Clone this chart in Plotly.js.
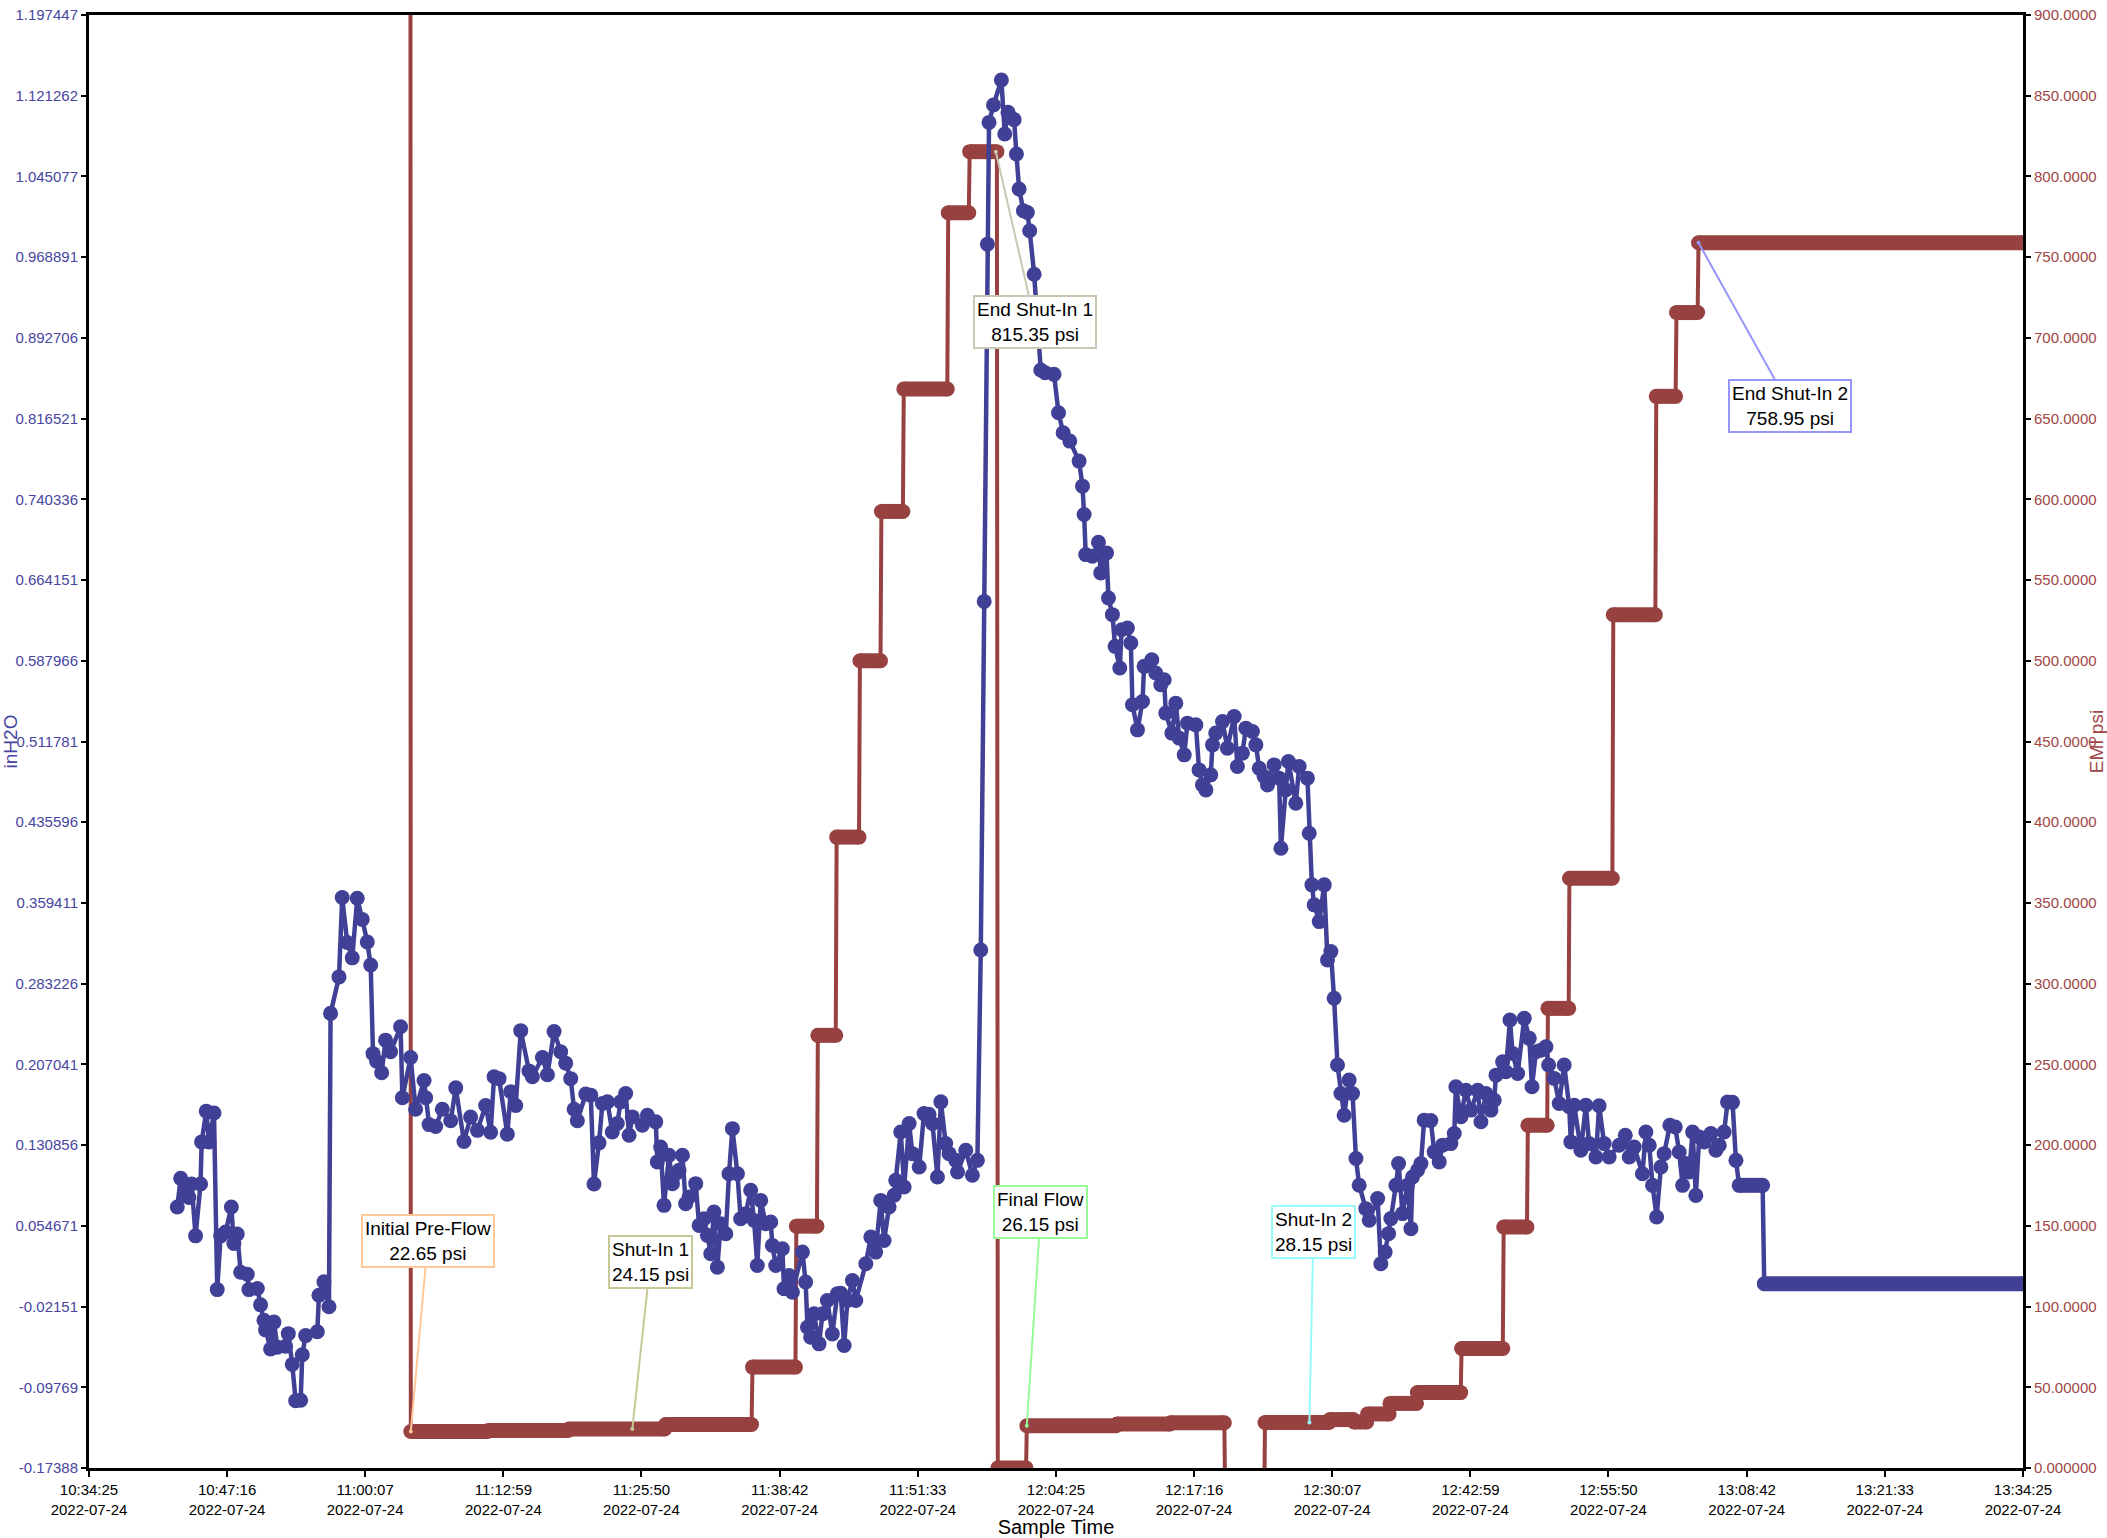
<!DOCTYPE html>
<html>
<head>
<meta charset="utf-8">
<script src="https://cdn.plot.ly/plotly-3.0.1.min.js"></script>
<style>html,body{margin:0;padding:0;background:#fff;}#chart{width:2107px;height:1538px;}</style>
</head>
<body>
<div id="chart"></div>
<script>
const DAY = '2022-07-24';

// x-axis tick labels
const xTickTimes = ['10:34:25','10:47:16','11:00:07','11:12:59','11:25:50','11:38:42','11:51:33','12:04:25','12:17:16','12:30:07','12:42:59','12:55:50','13:08:42','13:21:33','13:34:25'];
// left axis (inH2O) tick labels
const leftTickText = ['1.197447','1.121262','1.045077','0.968891','0.892706','0.816521','0.740336','0.664151','0.587966','0.511781','0.435596','0.359411','0.283226','0.207041','0.130856','0.054671','-0.02151','-0.09769','-0.17388'];
// right axis (EMI psi) tick labels
const rightTickText = ['900.0000','850.0000','800.0000','750.0000','700.0000','650.0000','600.0000','550.0000','500.0000','450.0000','400.0000','350.0000','300.0000','250.0000','200.0000','150.0000','100.0000','50.00000','0.000000'];

// inH2O series
const blueTime = [
'10:42:38','10:42:57','10:43:21','10:43:43','10:43:58','10:44:20','10:44:48','10:44:54','10:45:20','10:45:35',
'10:46:03','10:46:21','10:46:40','10:47:08','10:47:40','10:47:54','10:48:13','10:48:32','10:49:09','10:49:18',
'10:50:05','10:50:23','10:50:42','10:50:51','10:51:19','10:51:38','10:51:57','10:52:43','10:52:58','10:53:20',
'10:53:39','10:54:07','10:54:16','10:54:35','10:55:40','10:55:49','10:56:17','10:56:45','10:56:54','10:57:41',
'10:57:59','10:58:27','10:58:55','10:59:23','10:59:51','11:00:19','11:00:38','11:00:51','11:01:11','11:01:39',
'11:02:01','11:02:29','11:03:25','11:03:35','11:04:21','11:04:49','11:05:36','11:05:45','11:06:04','11:06:41',
'11:07:18','11:08:05','11:08:33','11:09:19','11:09:56','11:10:34','11:11:20','11:11:48','11:12:07','11:12:35',
'11:13:21','11:13:40','11:14:08','11:14:36','11:15:22','11:15:41','11:16:37','11:17:05','11:17:42','11:18:19',
'11:18:47','11:19:15','11:19:34','11:19:52','11:20:39','11:21:07','11:21:25','11:21:53',
'11:22:12','11:22:40','11:23:07','11:23:35','11:23:54','11:24:22','11:24:41','11:24:59','11:25:55','11:26:23',
'11:27:10','11:27:19','11:27:37','11:27:56','11:28:24','11:28:43','11:29:01','11:29:20','11:29:39','11:29:57',
'11:30:16','11:30:53','11:31:12','11:31:40','11:31:58','11:32:17','11:32:35','11:32:54','11:33:13','11:33:41',
'11:33:59','11:34:18','11:34:46','11:35:04','11:35:32','11:36:00','11:36:19','11:36:37','11:36:56','11:37:24',
'11:37:52','11:38:01','11:38:20','11:38:57','11:39:06','11:39:34','11:39:53','11:40:49','11:41:07','11:41:17',
'11:41:35','11:41:54','11:42:22','11:42:41','11:43:08','11:43:36','11:44:04','11:44:23','11:44:42','11:45:00',
'11:45:28','11:45:47','11:46:43','11:47:11','11:47:38','11:48:06','11:48:25','11:48:53','11:49:21','11:49:30',
'11:49:58','11:50:17','11:50:45','11:51:03','11:51:41','11:52:08','11:52:36','11:52:55','11:53:23','11:53:42',
'11:54:09','11:54:28','11:55:05','11:55:15','11:56:01','11:56:38','11:57:06',
'11:57:25','11:57:44','11:58:02','11:58:11','11:58:36','11:59:20','11:59:39','11:59:57','12:00:12','12:00:31',
'12:00:44','12:00:59','12:01:23','12:01:45','12:01:58','12:02:23','12:03:00','12:03:24','12:04:14','12:04:39',
'12:05:05','12:05:42',
'12:06:34','12:06:53','12:07:02','12:07:11','12:07:48','12:08:22','12:08:35','12:09:07','12:09:18','12:09:40',
'12:09:55','12:10:21','12:10:32','12:11:04','12:11:23','12:11:32','12:12:00','12:12:28','12:12:37','12:13:20',
'12:13:42','12:14:10','12:14:29','12:14:38','12:15:12','12:15:34','12:15:53','12:16:21','12:16:39','12:17:26',
'12:17:44','12:18:03','12:18:22','12:18:49','12:18:59','12:19:17','12:19:55','12:20:22','12:21:00','12:21:18',
'12:21:46','12:22:05','12:22:42','12:23:01','12:23:20','12:23:47','12:24:06','12:24:43','12:25:11','12:25:21',
'12:25:48','12:26:03','12:26:44','12:27:03','12:27:49','12:27:59',
'12:28:14','12:28:27','12:28:55','12:29:23','12:29:41','12:30:00','12:30:18','12:30:37','12:30:56','12:31:14',
'12:31:42','12:32:01','12:32:20','12:32:38','12:33:15','12:33:34','12:34:21','12:34:39','12:35:03','12:35:22',
'12:35:35','12:36:03','12:36:18','12:36:40','12:37:08','12:37:27','12:37:36','12:38:04','12:38:23','12:38:41',
'12:39:18','12:39:37','12:40:05','12:40:24','12:41:10','12:41:29','12:41:38','12:42:06','12:42:34','12:43:02',
'12:43:40','12:43:58','12:44:26','12:44:54','12:45:12','12:45:22','12:45:59','12:46:17','12:46:40','12:46:55',
'12:47:23','12:48:00','12:48:28','12:48:43','12:49:05','12:49:33','12:50:01','12:50:16','12:50:47','12:51:15',
'12:51:43','12:52:11',
'12:52:20','12:52:39','12:53:16','12:53:44','12:54:02','12:54:40','12:54:58','12:55:26','12:55:54','12:56:50',
'12:57:24','12:57:46','12:58:14','12:59:00','12:59:19','12:59:38','12:59:56','13:00:19','13:00:43','13:01:01',
'13:01:33','13:02:03','13:02:25','13:02:44','13:03:02','13:03:21','13:03:40','13:03:58','13:04:17','13:04:45',
'13:05:22','13:05:50','13:06:09','13:06:36','13:06:55','13:07:23','13:07:42','13:08:00','13:10:11','13:10:20',
'13:34:25'
];
const blueValue = [
0.0724,0.0995,0.0832,0.0814,0.0941,0.0452,0.0941,0.1339,0.1629,0.1339,
0.1611,-0.0055,0.0452,0.0488,0.0724,0.0380,0.0470,0.0108,0.0090,-0.0055,
-0.0045,-0.0199,-0.0344,-0.0435,-0.0616,-0.0362,-0.0598,-0.0590,-0.0471,-0.0761,
-0.1104,-0.1100,-0.0670,-0.0489,-0.0453,-0.0109,0.0018,-0.0217,0.2552,0.2896,
0.3645,0.3221,0.3076,0.3638,0.3439,0.3225,0.3008,0.2172,0.2100,0.1991,
0.2299,0.2190,0.2426,0.1755,0.2136,0.1647,0.1918,0.1755,0.1502,0.1484,
0.1647,0.1538,0.1849,0.1343,0.1574,0.1448,0.1683,0.1430,0.1954,0.1936,
0.1412,0.1813,0.1683,0.2389,0.2009,0.1954,0.2136,0.1973,0.2380,0.2190,
0.2082,0.1936,0.1647,0.1538,0.1791,0.1780,0.0941,0.1330,
0.1701,0.1717,0.1433,0.1512,0.1717,0.1795,0.1401,0.1575,0.1496,0.1590,
0.1528,0.1150,0.1291,0.0740,0.1213,0.0945,0.1039,0.1071,0.1213,0.0756,
0.0819,0.0945,0.0551,0.0614,0.0457,0.0283,0.0677,0.0157,0.0567,0.0472,
0.1039,0.1464,0.1039,0.0614,0.0661,0.0882,0.0598,0.0173,0.0787,0.0567,
0.0583,0.0362,0.0173,0.0331,-0.0047,0.0079,-0.0079,0.0299,0.0016,-0.0410,
-0.0504,-0.0284,-0.0567,-0.0284,-0.0158,-0.0473,-0.0095,-0.0090,-0.0583,-0.0158,
0.0031,-0.0158,0.0189,0.0441,0.0299,0.0787,0.0409,0.0724,0.0835,0.0976,
0.1433,0.0913,0.1512,0.1228,0.1102,0.1606,0.1600,0.1512,0.1008,0.1717,
0.1323,0.1228,0.1165,0.1055,0.1260,0.1024,0.1165,
0.3150,0.6440,0.9812,1.0961,1.1125,1.1361,1.0851,1.1056,1.1010,1.0987,
1.0662,1.0332,1.0127,1.0111,0.9938,0.9528,0.8624,0.8599,0.8583,0.8221,
0.8032,0.7953,
0.7764,0.7528,0.7260,0.6882,0.6866,0.6999,0.6709,0.6898,0.6472,0.6315,
0.6016,0.5811,0.6173,0.6189,0.6047,0.5465,0.5228,0.5496,0.5827,0.5890,
0.5764,0.5654,0.5700,0.5386,0.5197,0.5480,0.5150,0.4992,0.5291,0.5275,
0.4850,0.4708,0.4661,0.4803,0.5086,0.5197,0.5307,0.5055,0.5354,0.4882,
0.5008,0.5244,0.5212,0.5086,0.4866,0.4787,0.4708,0.4897,0.4772,0.4110,
0.4661,0.4929,0.4535,0.4882,0.4772,0.4252,
0.3765,0.3576,0.3418,0.3765,0.3056,0.3135,0.2694,0.2064,0.1796,0.1591,
0.1922,0.1796,0.1182,0.0930,0.0709,0.0599,0.0804,0.0189,0.0299,0.0473,
0.0615,0.0930,0.1134,0.0662,0.0930,0.0520,0.1008,0.1071,0.1134,0.1544,
0.1540,0.1245,0.1150,0.1308,0.1323,0.1418,0.1859,0.1576,0.1827,0.1639,
0.1827,0.1529,0.1796,0.1639,0.1733,0.1969,0.2095,0.2001,0.2489,0.2174,
0.1985,0.2505,0.2316,0.1859,0.2190,0.2205,0.2237,0.2064,0.1938,0.1702,
0.2064,0.1670,
0.1339,0.1685,0.1260,0.1685,0.1323,0.1197,0.1680,0.1323,0.1197,0.1307,
0.1401,0.1197,0.1291,0.1039,0.1433,0.1307,0.0929,0.0630,0.1102,0.1228,
0.1496,0.1480,0.1244,0.0929,0.1134,0.1055,0.1433,0.0834,0.1386,0.1339,
0.1417,0.1260,0.1307,0.1433,0.1716,0.1712,0.1165,0.0929,0.0929,0.0000,
0.0000
];

// EMI psi series (each level: first and last sample of the hold)
const redTime = ['11:04:20',
'11:04:22','11:11:30','11:11:35','11:19:00','11:19:05','11:28:00','11:28:05','11:36:05',
'11:36:10','11:40:10','11:40:15','11:42:10','11:42:15','11:43:55','11:44:00','11:46:05',
'11:46:10','11:48:05','11:48:10','11:50:10','11:50:15','11:54:18','11:54:23','11:56:18',
'11:56:23','11:58:55','11:59:00','12:01:38','12:01:42','12:10:00','12:10:05','12:15:00',
'12:15:05','12:20:05','12:20:10','12:23:48','12:23:52','12:29:50','12:29:55','12:32:05',
'12:32:10','12:33:20','12:33:25','12:35:25','12:35:30','12:37:58','12:38:03','12:42:05',
'12:42:10','12:46:00','12:46:05','12:48:15','12:48:20','12:50:08','12:50:12','12:52:08',
'12:52:12','12:56:12','12:56:17','13:00:12','13:00:17','13:02:05','13:02:10','13:04:08',
'13:04:13','13:34:25'];
const redValue = [1000,
22.65,22.65,23.2,23.2,24.15,24.15,26.9,26.9,
62.5,62.5,149.8,149.8,268.0,268.0,390.8,390.8,
500.0,500.0,592.5,592.5,668.3,668.3,777.5,777.5,
815.35,815.35,0,0,26.15,26.15,27.2,27.2,
28.0,28.0,-20,-20,28.15,28.15,30.0,30.0,
28.5,28.5,33.5,33.5,40.0,40.0,46.7,46.7,
74.0,74.0,149.3,149.3,212.3,212.3,284.7,284.7,
365.3,365.3,528.5,528.5,663.8,663.8,715.7,715.7,
758.95,758.95];

// annotated points
const annTime = ['11:04:22','11:24:59','12:01:42','12:28:00','11:58:49','13:04:13'];
const annValue = [22.65,24.15,26.15,28.15,815.35,758.95];
const annLabel = ['Initial Pre-Flow','Shut-In 1','Final Flow','Shut-In 2','End Shut-In 1','End Shut-In 2'];
const annColor = ['#ffc896','#c8c896','#96fa96','#96fafa','#c8c8b4','#9696fa'];
const annAx = [17,18,14,4,39,91];
const annAy = [-190,-167,-214,-191,170,163];

const FONT = '"Liberation Sans", Arial, Helvetica, sans-serif';
const BLUE = '#404096';
const RED = '#974141';
const BLUE_TXT = '#4646a0';
const RED_TXT = '#a04646';
const MSIZE = 15;

function ts(t){ return DAY + ' ' + t; }
function sec(t){ const p = t.split(':').map(Number); return p[0]*3600 + p[1]*60 + p[2]; }
// long runs of repeated samples are drawn as a thick band, like the dense markers of the original
function holds(times, vals){
  const x = [], y = [];
  for (let i = 0; i < times.length - 1; i++) {
    if (vals[i] === vals[i+1] && sec(times[i+1]) - sec(times[i]) > 60) {
      x.push(ts(times[i]), ts(times[i+1]), null);
      y.push(vals[i], vals[i+1], null);
    }
  }
  return {x, y};
}

const redHold = holds(redTime, redValue);
const blueHold = holds(blueTime, blueValue);

const traces = [
  {x: redHold.x, y: redHold.y, yaxis: 'y', mode: 'lines', line: {color: RED, width: MSIZE}, connectgaps: false, hoverinfo: 'skip', showlegend: false},
  {x: redTime.map(ts), y: redValue, yaxis: 'y', name: 'EMI psi', mode: 'lines+markers', line: {color: RED, width: 4}, marker: {color: RED, size: MSIZE}},
  {x: blueHold.x, y: blueHold.y, yaxis: 'y2', mode: 'lines', line: {color: BLUE, width: MSIZE}, connectgaps: false, hoverinfo: 'skip', showlegend: false},
  {x: blueTime.map(ts), y: blueValue, yaxis: 'y2', name: 'inH2O', mode: 'lines+markers', line: {color: BLUE, width: 4.5}, marker: {color: BLUE, size: MSIZE}}
];

const annotations = annLabel.map((lab, i) => ({
  x: ts(annTime[i]), y: annValue[i], xref: 'x', yref: 'y',
  text: lab + '<br>' + annValue[i].toFixed(2) + ' psi',
  showarrow: true, arrowhead: 6, arrowsize: 0.5, arrowwidth: 2, arrowcolor: annColor[i], standoff: 0,
  ax: annAx[i], ay: annAy[i],
  bgcolor: '#ffffff', bordercolor: annColor[i], borderwidth: 2, borderpad: 2,
  font: {family: FONT, size: 19, color: '#000000'}, align: 'center'
}));

const layout = {
  width: 2107, height: 1538,
  margin: {l: 89, r: 84, t: 15, b: 70, pad: 0},
  paper_bgcolor: '#ffffff', plot_bgcolor: '#ffffff',
  showlegend: false,
  font: {family: FONT, size: 15, color: '#000000'},
  xaxis: {
    type: 'date',
    range: [ts(xTickTimes[0]), ts(xTickTimes[xTickTimes.length-1])],
    tickmode: 'array',
    tickvals: xTickTimes.map(ts),
    ticktext: xTickTimes.map(t => t + '<br>' + DAY),
    ticks: 'outside', ticklen: 6, tickwidth: 2, tickcolor: '#000',
    showline: true, linecolor: '#000', linewidth: 3, mirror: true,
    showgrid: false, zeroline: false,
    tickfont: {family: FONT, size: 15, color: '#000'},
    title: {text: 'Sample Time', font: {family: FONT, size: 20, color: '#000'}},
    automargin: false
  },
  yaxis: {
    side: 'right',
    range: [0, 900],
    tickmode: 'array',
    tickvals: rightTickText.map(Number),
    ticktext: rightTickText,
    ticks: 'outside', ticklen: 5, tickwidth: 2, tickcolor: '#000',
    showline: true, linecolor: '#000', linewidth: 3,
    showgrid: false, zeroline: false,
    tickfont: {family: FONT, size: 15, color: RED_TXT},
    title: {text: 'EMI psi', font: {family: FONT, size: 19, color: RED_TXT}},
    automargin: false
  },
  yaxis2: {
    side: 'left', overlaying: 'y',
    range: [Number(leftTickText[leftTickText.length-1]), Number(leftTickText[0])],
    tickmode: 'array',
    tickvals: leftTickText.map(Number),
    ticktext: leftTickText,
    ticks: 'outside', ticklen: 5, tickwidth: 2, tickcolor: '#000',
    showline: true, linecolor: '#000', linewidth: 3,
    showgrid: false, zeroline: false,
    tickfont: {family: FONT, size: 15, color: BLUE_TXT},
    title: {text: 'inH2O', font: {family: FONT, size: 19, color: BLUE_TXT}},
    automargin: false
  },
  annotations: annotations
};

Plotly.newPlot('chart', traces, layout, {displayModeBar: false, staticPlot: true});
</script>
</body>
</html>
